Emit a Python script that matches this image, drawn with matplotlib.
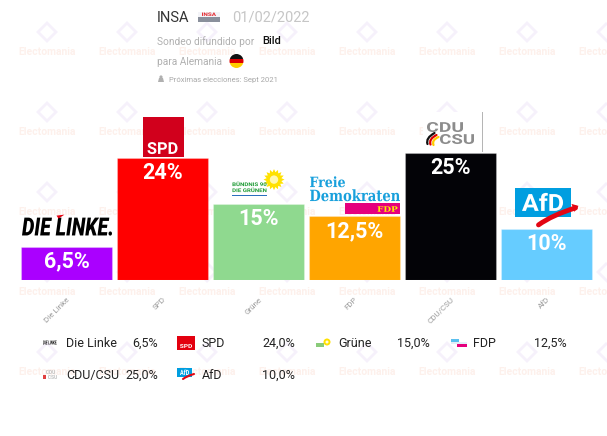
import matplotlib
matplotlib.use("Agg")
import matplotlib.pyplot as plt
from matplotlib.font_manager import FontProperties
from matplotlib.textpath import TextPath
from matplotlib.patches import PathPatch, Rectangle, Circle, Polygon
from matplotlib.path import Path
from matplotlib.transforms import Affine2D, IdentityTransform
import numpy as np

W, H = 607, 436

# data
parties = ["Die Linke", "SPD", "Grüne", "FDP", "CDU/CSU", "AfD"]
values = [6.5, 24.0, 15.0, 12.5, 25.0, 10.0]
bar_labels = ["6,5%", "24%", "15%", "12,5%", "25%", "10%"]
legend_values = ["6,5%", "24,0%", "15,0%", "12,5%", "25,0%", "10,0%"]
colors = ["#aa00ff", "#ff0000", "#8fd98f", "#ffa500", "#030307", "#66ccff"]

ID = IdentityTransform()
fig = plt.figure(figsize=(W / 100, H / 100), dpi=100, facecolor="white")


def ftext(x, y, s, **kw):
    kw.setdefault("family", "Roboto")
    kw.setdefault("va", "center")
    return fig.text(x / W, 1 - y / H, s, **kw)


def rect(x0, y0, x1, y1, color, z=5, **kw):
    p = Rectangle((x0, H - y1), x1 - x0, y1 - y0, fc=color, ec="none", transform=ID, zorder=z, **kw)
    fig.add_artist(p)
    return p


def circ(x, y, r, color, z=5):
    p = Circle((x, H - y), r, fc=color, ec="none", transform=ID, zorder=z)
    fig.add_artist(p)
    return p


def poly(pts, color, z=5, fill=True, lw=1.0):
    p = Polygon([(a, H - b) for a, b in pts], closed=True, transform=ID, zorder=z,
                fc=color if fill else "none", ec="none" if fill else color, lw=lw)
    fig.add_artist(p)
    return p


def fit_text(s, x0, y0, x1, y1, color, weight="bold", style="normal", family="Roboto", z=6):
    """text drawn as a path stretched into a pixel box (top-left origin)"""
    tp = TextPath((0, 0), s, size=20, prop=FontProperties(family=family, weight=weight, style=style))
    bb = tp.get_extents()
    tr = (Affine2D().translate(-bb.x0, -bb.y0)
          .scale((x1 - x0) / bb.width, (y1 - y0) / bb.height).translate(x0, H - y1))
    p = PathPatch(tr.transform_path(tp), fc=color, ec="none", transform=ID, zorder=z)
    fig.add_artist(p)


def swoosh(pts, color, lw, z=6):
    verts = [(a, H - b) for a, b in pts]
    codes = [Path.MOVETO] + [Path.CURVE3] * (len(verts) - 1)
    p = PathPatch(Path(verts, codes), fc="none", ec=color, lw=lw, transform=ID, zorder=z,
                  capstyle="round")
    fig.add_artist(p)


# watermark
for wy in [52, 132, 212, 292, 372]:
    for k in range(8):
        wx = 47 + 80 * k
        ftext(wx, wy, "Electomania", ha="center", fontsize=7.5, weight="bold",
              color="#fdf0eb", zorder=-2)
        poly([(wx, wy - 29), (wx + 9, wy - 20), (wx, wy - 11), (wx - 9, wy - 20)],
             "#f6f1fb", z=-2, fill=False, lw=2.0)

# header
ftext(157, 18, "INSA", fontsize=10.5, color="#333333")
rect(198, 16.5, 220, 21.5, "#8a909c")
rect(198, 11.5, 220, 16.5, "#f4f4f8")
fit_text("INSA", 202, 12.5, 216, 16, "#e3242b")
ftext(232, 18, "01/02/2022", fontsize=10.5, color="#c6c6c6")
ftext(157, 42, "Sondeo difundido por", fontsize=7.3, color="#b0b0b0")
ftext(262, 41, "Bild", fontsize=8, color="#111111", weight="medium")
ftext(157, 62, "para Alemania", fontsize=7.3, color="#b0b0b0")
clip = Circle((236.5, H - 61), 7, transform=ID)
for k, c in enumerate(["#111111", "#dd0000", "#ffce00"]):
    r = rect(229, 54 + k * 4.7, 244, 54 + (k + 1) * 4.7, c, z=6)
    r.set_clip_path(clip)
ftext(169, 79.5, "Próximas elecciones: Sept 2021", fontsize=5.5, color="#a8a8a8")
poly([(158, 82), (164, 82), (163, 78), (159, 78)], "#b0b0b0", z=6)
circ(161, 77, 1.6, "#b0b0b0", z=6)

# bars
ax = fig.add_axes([18.5 / W, (H - 279.5) / H, 576 / W, 136.6 / H])
ax.patch.set_visible(False)
x = np.arange(len(parties))
ax.bar(x, values, width=0.948, color=colors, edgecolor=[(1, 1, 1, 0.25)] * 6, linewidth=0.8,
       zorder=2)
ax.set_xlim(-0.5, 5.5)
ax.set_ylim(0, 27)
ax.set_yticks([])
ax.set_xticks(x)
ax.set_xticklabels(parties, rotation=45, ha="right", rotation_mode="anchor",
                   fontsize=5.8, color="#999999", family="Roboto")
ax.tick_params(axis="x", length=0, pad=12)
for s in ax.spines.values():
    s.set_visible(False)
for i, (v, lab) in enumerate(zip(values, bar_labels)):
    ax.annotate(lab, (i, v), xytext=(0, -15), textcoords="offset pixels", ha="center",
                va="center", color="white", fontsize=15.5, weight="bold", family="Roboto",
                zorder=4)

# party logos above the bars, placed from each bar's top
tops = [ax.transData.transform((i, v)) for i, v in enumerate(values)]
tops = [(px, H - py) for px, py in tops]

cx, t = tops[0]
fit_text("DIE LINKE.", cx - 44.5, t - 29, cx + 45.5, t - 11, "#000000", weight="black", style="italic")
poly([(cx - 10, t - 31), (cx - 2, t - 32), (cx - 8, t - 28)], "#e3000f", z=7)

cx, t = tops[1]
rect(cx - 19.5, t - 41, cx + 21.5, t - 1, "#d1001c")
fit_text("SPD", cx - 15, t - 16, cx + 15, t - 4, "white")

cx, t = tops[2]
sx, sy = cx + 15.5, t - 24
ang = np.linspace(0, 2 * np.pi, 33)[:-1]
rad = np.where(np.arange(32) % 2 == 0, 10.5, 7.5)
poly(list(zip(sx + rad * np.cos(ang), sy + rad * np.sin(ang))), "#ffe100", z=6)
circ(sx, sy, 4.2, "#fff8b0", z=7)
fit_text("BÜNDNIS 90", cx - 26, t - 22, cx + 8, t - 17.5, "#1e9b35")
fit_text("DIE GRÜNEN", cx - 26, t - 16, cx + 8, t - 11.5, "#1e9b35")
rect(cx - 27, t - 9, cx + 8, t - 7.5, "#2a6fbe")

cx, t = tops[3]
fit_text("Freie", cx - 44.5, t - 40, cx - 9.5, t - 29, "#18a0dc", family="DejaVu Serif")
fit_text("Demokraten", cx - 44.5, t - 27, cx + 45.5, t - 15, "#18a0dc", family="DejaVu Serif")
rect(cx - 9.5, t - 13, cx + 45.5, t - 2, "#e5007d")
fit_text("FDP", cx + 23, t - 10, cx + 43, t - 4.5, "#ffed00", family="DejaVu Serif")

cx, t = tops[4]
rect(cx - 28, t - 41, cx + 31.5, t - 1, "white")
rect(cx + 31.5, t - 41, cx + 32.8, t - 1, "#b5b5b5")
fit_text("CDU", cx - 23.5, t - 31, cx + 12.5, t - 21, "#8c8c8c")
fit_text("CSU", cx - 10.5, t - 19, cx + 23.5, t - 9, "#8c8c8c")
swoosh([(cx - 16, t - 20), (cx - 25, t - 15), (cx - 23, t - 9)], "#111111", 1.6)
swoosh([(cx - 14, t - 18), (cx - 22, t - 14), (cx - 20, t - 8.5)], "#dd0000", 1.6)
swoosh([(cx - 12, t - 16), (cx - 19, t - 13), (cx - 17, t - 8)], "#ffcc00", 1.6)

cx, t = tops[5]
rect(cx - 31.5, t - 41, cx + 24.5, t - 12, "#009ee0")
fit_text("AfD", cx - 24.5, t - 36, cx + 16.5, t - 18, "white")
swoosh([(cx - 8, t - 4), (cx + 6, t - 14), (cx + 29, t - 21)], "#e30613", 3.5, z=7)
poly([(cx + 32, t - 23), (cx + 25, t - 25), (cx + 28, t - 17)], "#e30613", z=7)

# legend
icon_x = [43, 177, 316, 451]
text_x = [66, 202, 338, 473]
val_x = [158, 295, 430, 567]
row_y = [343, 375]
for k, (p, lv) in enumerate(zip(parties, legend_values)):
    r, c = divmod(k, 4)
    x0, y = icon_x[c], row_y[r]
    ftext(text_x[c], y, p, fontsize=9, color="#222222")
    ftext(val_x[c], y, lv, fontsize=9, color="#222222", ha="right")
    if p == "Die Linke":
        fit_text("DIE LINKE.", x0, y - 2.5, x0 + 14, y + 1.5, "#111111", style="italic")
    elif p == "SPD":
        rect(x0, y - 7, x0 + 18, y + 7, "#e3000f")
        fit_text("SPD", x0 + 3, y + 1, x0 + 15, y + 5, "white")
    elif p == "Grüne":
        rect(x0, y - 0.5, x0 + 8, y + 3.5, "#8acb7a")
        circ(x0 + 11, y - 1, 3.5, "#ffe100")
        circ(x0 + 11, y - 1, 1.5, "#fffbe0", z=6)
    elif p == "FDP":
        rect(x0, y - 4, x0 + 8, y - 1.5, "#5bc0ef")
        rect(x0, y - 1.5, x0 + 16, y + 1, "#e3eef8")
        rect(x0 + 6, y + 1, x0 + 16, y + 3.5, "#e5007d")
    elif p == "CDU/CSU":
        fit_text("CDU", x0 + 3, y - 5, x0 + 12, y - 1, "#c0c0c0")
        fit_text("CSU", x0 + 5, y, x0 + 14, y + 4, "#c0c0c0")
        rect(x0, y, x0 + 3, y + 4, "#e04040")
    elif p == "AfD":
        rect(x0, y - 7, x0 + 15, y + 2, "#009ee0")
        fit_text("AfD", x0 + 3, y - 5.5, x0 + 12, y, "white")
        swoosh([(x0 + 6, y + 4), (x0 + 10, y + 1), (x0 + 17, y - 1)], "#e30613", 1.5)

fig.savefig("out.png", dpi=100, facecolor="white")
